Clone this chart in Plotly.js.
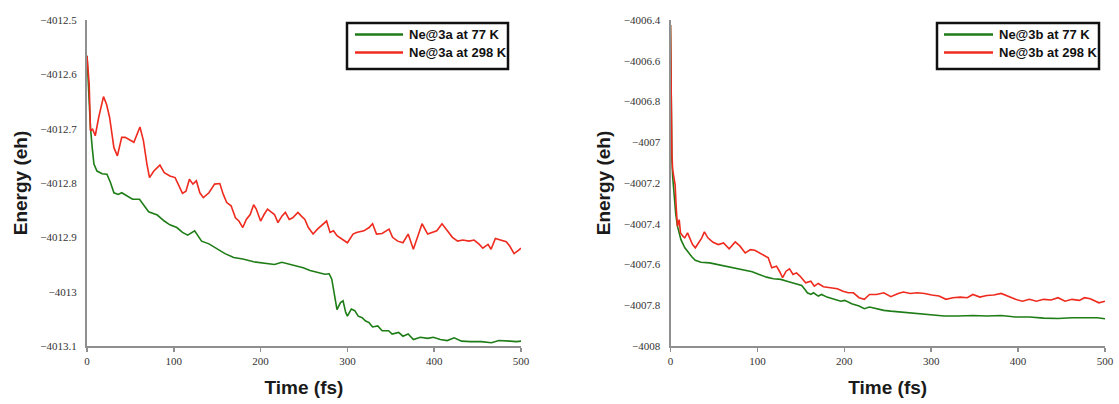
<!DOCTYPE html>
<html>
<head>
<meta charset="utf-8">
<script src="https://cdn.plot.ly/plotly-3.0.1.min.js"></script>
<style>
  html, body { margin: 0; padding: 0; background: #ffffff; }
  #chart { width: 1119px; height: 404px; }
</style>
</head>
<body>
<div id="chart"></div>
<script>
// ---------- Data ----------
// Panel (a): Ne@3a
const timeA77 = [0,2.5,4,6,8,11.5,17.5,23,27,31,36,40,46,52.5,60.5,65,71,81,89,95.5,103.5,110,116,124,132,140.5,149,159,169,179.5,192,204,216,224.5,237,249,257,265.5,274,279,282,285,288,292,295,298,300,304.5,308.5,312.5,317,321,325,329,335,340,347.5,351.5,359,364,370,376,384,392.5,399,407,415,423,431.5,442,454,466,474.5,487,495,500];
const energyA77 = [-4012.566,-4012.649,-4012.698,-4012.735,-4012.765,-4012.778,-4012.783,-4012.784,-4012.799,-4012.818,-4012.821,-4012.818,-4012.824,-4012.830,-4012.830,-4012.839,-4012.853,-4012.859,-4012.870,-4012.877,-4012.882,-4012.891,-4012.896,-4012.888,-4012.907,-4012.912,-4012.920,-4012.930,-4012.937,-4012.940,-4012.945,-4012.947,-4012.950,-4012.946,-4012.951,-4012.956,-4012.961,-4012.964,-4012.968,-4012.967,-4012.977,-4013.005,-4013.033,-4013.020,-4013.017,-4013.038,-4013.045,-4013.032,-4013.035,-4013.045,-4013.048,-4013.054,-4013.057,-4013.065,-4013.063,-4013.072,-4013.072,-4013.078,-4013.075,-4013.082,-4013.078,-4013.088,-4013.084,-4013.086,-4013.084,-4013.088,-4013.090,-4013.085,-4013.091,-4013.092,-4013.092,-4013.094,-4013.090,-4013.091,-4013.092,-4013.091];

const timeA298 = [0,2.5,4,6.5,9.5,13.5,19,22.5,26,31,35,40,44,48,54,61,65,69,72,77,84,89,95.5,101.5,106,110,114,118,122,126,130,134,140.5,147,153,157,161,166,171,175,179.5,183.5,188,192,195,200,204,208,212,216,220,224.5,228.5,233,237,243,247,251,255,260.5,265.5,272,276,280,284,288,294,300,306.5,310.5,319,325,329,333.5,340,348,352,358,364,370,376,380,386,392.5,399,403,409,415,421,427,433,440,446,452,456,462,465.5,470.5,476.5,483,487,492,497,500];
const energyA298 = [-4012.566,-4012.618,-4012.704,-4012.701,-4012.713,-4012.679,-4012.641,-4012.655,-4012.679,-4012.735,-4012.750,-4012.716,-4012.716,-4012.719,-4012.725,-4012.697,-4012.722,-4012.765,-4012.790,-4012.778,-4012.767,-4012.781,-4012.787,-4012.790,-4012.805,-4012.819,-4012.815,-4012.793,-4012.802,-4012.796,-4012.818,-4012.827,-4012.818,-4012.802,-4012.801,-4012.821,-4012.836,-4012.842,-4012.864,-4012.870,-4012.882,-4012.867,-4012.858,-4012.840,-4012.848,-4012.870,-4012.858,-4012.848,-4012.853,-4012.858,-4012.873,-4012.861,-4012.854,-4012.867,-4012.864,-4012.854,-4012.861,-4012.867,-4012.882,-4012.894,-4012.885,-4012.876,-4012.870,-4012.891,-4012.888,-4012.897,-4012.904,-4012.910,-4012.894,-4012.891,-4012.888,-4012.882,-4012.875,-4012.894,-4012.893,-4012.885,-4012.900,-4012.907,-4012.910,-4012.894,-4012.922,-4012.903,-4012.875,-4012.894,-4012.891,-4012.888,-4012.875,-4012.888,-4012.900,-4012.907,-4012.905,-4012.907,-4012.905,-4012.913,-4012.920,-4012.913,-4012.922,-4012.902,-4012.905,-4012.908,-4012.916,-4012.930,-4012.924,-4012.920];

// Panel (b): Ne@3b
const timeB77 = [0,0.8,1.6,2.5,4,6,8,12,16.5,20.5,24.5,28.5,35,45,57,69.5,82,94,102,110.5,118.5,127,135,143,151,154.5,157.5,161.5,164.5,170,174,180,188,196,200.5,208.5,217,223,229,237,245.5,253.5,266,282,298.5,315,331,348,364,380.5,397,413,429.5,446,462,478.5,491,500];
const energyB77 = [-4006.424,-4006.850,-4007.080,-4007.170,-4007.260,-4007.350,-4007.412,-4007.478,-4007.518,-4007.543,-4007.562,-4007.579,-4007.589,-4007.592,-4007.603,-4007.616,-4007.628,-4007.636,-4007.649,-4007.662,-4007.670,-4007.673,-4007.683,-4007.693,-4007.703,-4007.722,-4007.739,-4007.747,-4007.739,-4007.755,-4007.747,-4007.760,-4007.771,-4007.780,-4007.776,-4007.793,-4007.804,-4007.817,-4007.809,-4007.817,-4007.825,-4007.829,-4007.834,-4007.840,-4007.845,-4007.853,-4007.853,-4007.850,-4007.853,-4007.850,-4007.858,-4007.858,-4007.863,-4007.865,-4007.861,-4007.860,-4007.861,-4007.866];

const timeB298 = [0,0.8,1.6,2.5,4,5.3,6.5,8,10,11.5,14.3,16.4,19.6,22.5,25.4,28.6,32.7,36,39,43,49,55,61,67.5,74.5,80,86,92,97,102,108,112.5,116.5,122,126,129,133,137,141,145,149,155.5,161.5,165.5,170,176,184,192,198.5,204.5,210.5,217,223,229,237,245.5,253.5,262,268,276,284,292.5,300.5,309,317,325,333.5,341.5,348,356,364,372,380.5,388.5,397,405,413,421,429.5,438,446,454,462,470.5,476.5,483,489,493,500];
const energyB298 = [-4006.424,-4006.792,-4007.053,-4007.135,-4007.184,-4007.208,-4007.314,-4007.412,-4007.380,-4007.445,-4007.461,-4007.469,-4007.445,-4007.478,-4007.502,-4007.518,-4007.494,-4007.469,-4007.440,-4007.469,-4007.491,-4007.502,-4007.494,-4007.523,-4007.489,-4007.510,-4007.543,-4007.527,-4007.530,-4007.543,-4007.556,-4007.567,-4007.616,-4007.608,-4007.638,-4007.665,-4007.633,-4007.621,-4007.649,-4007.641,-4007.657,-4007.690,-4007.682,-4007.706,-4007.693,-4007.709,-4007.714,-4007.719,-4007.731,-4007.739,-4007.739,-4007.763,-4007.771,-4007.747,-4007.747,-4007.739,-4007.758,-4007.742,-4007.735,-4007.742,-4007.739,-4007.742,-4007.750,-4007.755,-4007.771,-4007.763,-4007.760,-4007.763,-4007.747,-4007.760,-4007.752,-4007.750,-4007.742,-4007.755,-4007.771,-4007.780,-4007.771,-4007.780,-4007.771,-4007.774,-4007.763,-4007.780,-4007.771,-4007.776,-4007.763,-4007.768,-4007.780,-4007.788,-4007.780];

const seriesNamesA = ["Ne@3a at 77 K", "Ne@3a at 298 K"];
const seriesNamesB = ["Ne@3b at 77 K", "Ne@3b at 298 K"];
const xTitle = "Time (fs)";
const yTitle = "Energy (eh)";

// Tick values and labels
const xTickVals = [0, 100, 200, 300, 400, 500];
const xTickText = ["0", "100", "200", "300", "400", "500"];
const yTickValsA = [-4013.1, -4013.0, -4012.9, -4012.8, -4012.7, -4012.6, -4012.5];
const yTickTextA = ["\u22124013.1", "\u22124013", "\u22124012.9", "\u22124012.8", "\u22124012.7", "\u22124012.6", "\u22124012.5"];
const yTickValsB = [-4008, -4007.8, -4007.6, -4007.4, -4007.2, -4007, -4006.8, -4006.6, -4006.4];
const yTickTextB = ["\u22124008", "\u22124007.8", "\u22124007.6", "\u22124007.4", "\u22124007.2", "\u22124007", "\u22124006.8", "\u22124006.6", "\u22124006.4"];

// ---------- Styling ----------
const GREEN = "#1f7d17";
const RED = "#ee2b1e";
const AXIS = "#8f8f8f";
const tickFont = {family: "Liberation Serif, Times New Roman, serif", size: 11, color: "#333333"};
const titleFont = {family: "Liberation Sans, Arial, sans-serif", size: 19, color: "#1a1a1a", weight: "bold"};
const legendFont = {family: "Liberation Sans, Arial, sans-serif", size: 13, color: "#111111", weight: "bold"};

function lineTrace(x, y, name, color, xa, ya) {
  return {x: x, y: y, name: name, type: "scatter", mode: "lines",
          line: {color: color, width: 1.6}, xaxis: xa, yaxis: ya, hoverinfo: "skip"};
}

const data = [
  lineTrace(timeA77, energyA77, seriesNamesA[0], GREEN, "x", "y"),
  lineTrace(timeA298, energyA298, seriesNamesA[1], RED, "x", "y"),
  lineTrace(timeB77, energyB77, seriesNamesB[0], GREEN, "x2", "y2"),
  lineTrace(timeB298, energyB298, seriesNamesB[1], RED, "x2", "y2")
];

const W = 1119, H = 404;
const px = v => v / W;
const py = v => 1 - v / H;

function xAxis(domain, anchor) {
  return {domain: domain, anchor: anchor, range: [0, 500],
          tickmode: "array", tickvals: xTickVals, ticktext: xTickText,
          showgrid: false, zeroline: false, showline: true, linecolor: AXIS, linewidth: 2,
          ticks: "outside", ticklen: 4, tickwidth: 1.5, tickcolor: AXIS, tickfont: tickFont,
          title: {text: "<b>" + xTitle + "</b>", font: titleFont, standoff: 14}, fixedrange: true};
}
function yAxis(domain, anchor, range, vals, text) {
  return {domain: domain, anchor: anchor, range: range,
          tickmode: "array", tickvals: vals, ticktext: text,
          showgrid: false, zeroline: false, showline: true, linecolor: AXIS, linewidth: 2,
          ticks: "", ticklabelstandoff: 6, tickfont: tickFont,
          title: {text: "<b>" + yTitle + "</b>", font: titleFont, standoff: 8}, fixedrange: true};
}

const yDom = [py(346), py(20)];
const layout = {
  width: W, height: H,
  margin: {l: 0, r: 0, t: 0, b: 0},
  paper_bgcolor: "#ffffff", plot_bgcolor: "#ffffff",
  showlegend: false,
  xaxis: xAxis([px(87), px(521)], "y"),
  yaxis: yAxis(yDom, "x", [-4013.1, -4012.5], yTickValsA, yTickTextA),
  xaxis2: xAxis([px(670.5), px(1105)], "y2"),
  yaxis2: yAxis(yDom, "x2", [-4008, -4006.4], yTickValsB, yTickTextB),
  shapes: [],
  annotations: []
};

// Custom boxed legends (long line samples as in the reference)
function addLegend(x0, x1, lineX0, lineX1, textX, names) {
  layout.shapes.push({type: "rect", xref: "paper", yref: "paper",
    x0: px(x0), x1: px(x1), y0: py(69), y1: py(23),
    line: {color: "#111111", width: 2.5}, fillcolor: "#ffffff", layer: "above"});
  const rows = [34.5, 52.5];
  const cols = [GREEN, RED];
  for (let i = 0; i < 2; i++) {
    layout.shapes.push({type: "line", xref: "paper", yref: "paper",
      x0: px(lineX0), x1: px(lineX1), y0: py(rows[i]), y1: py(rows[i]),
      line: {color: cols[i], width: 2.5}, layer: "above"});
    layout.annotations.push({xref: "paper", yref: "paper", x: px(textX), y: py(rows[i]),
      xanchor: "left", yanchor: "middle", showarrow: false,
      text: "<b>" + names[i] + "</b>", font: legendFont});
  }
}
addLegend(347, 508, 355, 403, 407, seriesNamesA);
addLegend(937, 1099, 944, 993, 997, seriesNamesB);

Plotly.newPlot("chart", data, layout, {staticPlot: true, displayModeBar: false});
</script>
</body>
</html>
